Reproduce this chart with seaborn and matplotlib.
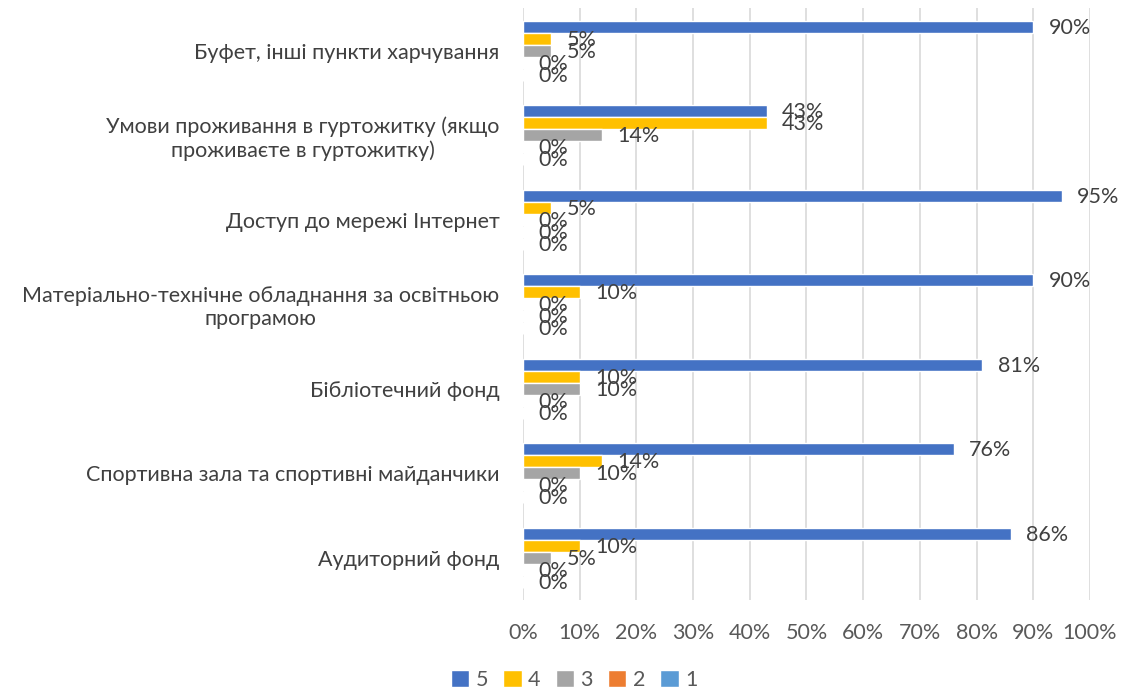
import matplotlib
matplotlib.use("Agg")
import matplotlib.pyplot as plt
import pandas as pd
import seaborn as sns
from matplotlib.patches import Patch

categories = [
    "Буфет, інші пункти харчування",
    "Умови проживання в гуртожитку (якщо\nпроживаєте в гуртожитку)",
    "Доступ до мережі Інтернет",
    "Матеріально-технічне обладнання за освітньою\nпрограмою",
    "Бібліотечний фонд",
    "Спортивна зала та спортивні майданчики",
    "Аудиторний фонд",
]
series = ["5", "4", "3", "2", "1"]
vals_5 = [90, 43, 95, 90, 81, 76, 86]
vals_4 = [5, 43, 5, 10, 10, 14, 10]
vals_3 = [5, 14, 0, 0, 10, 10, 5]
vals_2 = [0, 0, 0, 0, 0, 0, 0]
vals_1 = [0, 0, 0, 0, 0, 0, 0]
colors = ["#4472C4", "#FFC000", "#A5A5A5", "#ED7D31", "#5B9BD5"]
xticks = list(range(0, 101, 10))

rows = []
for s, vals in zip(series, [vals_5, vals_4, vals_3, vals_2, vals_1]):
    for c, v in zip(categories, vals):
        rows.append({"category": c, "series": s, "value": v})
df = pd.DataFrame(rows)

sns.set_style("white")
plt.rcParams["font.family"] = ["Lato", "DejaVu Sans"]
fs = 15.5

fig = plt.figure(figsize=(11.26, 6.91), dpi=100)
ax = fig.add_axes([0.4645, 0.132, 0.5035, 0.856])

sns.barplot(data=df, y="category", x="value", hue="series", hue_order=series,
            order=categories, palette=colors, orient="h", width=0.71,
            saturation=1, ax=ax, legend=False)

# value labels next to every bar, zeros included
for cont in ax.containers:
    for p in cont:
        v = p.get_width()
        ax.annotate(f"{v:.0f}%", (v, p.get_y() + p.get_height() / 2),
                    xytext=(11, -1), textcoords="offset points",
                    ha="left", va="center", fontsize=fs, color="#404040")

ax.set_xlim(0, 100)
ax.set_xticks(xticks)
ax.set_xticklabels([f"{t}%" for t in xticks])
ax.grid(axis="x", color="#D9D9D9", linewidth=1.2)
ax.set_axisbelow(True)
for sp in ax.spines.values():
    sp.set_visible(False)
ax.tick_params(axis="both", length=0, labelsize=fs, colors="#595959")
ax.tick_params(axis="x", pad=17)
ax.tick_params(axis="y", pad=17)
for lab in ax.get_yticklabels():
    lab.set_multialignment("center")
    lab.set_color("#404040")
ax.set_xlabel("")
ax.set_ylabel("")

handles = [Patch(facecolor=c, label=s) for s, c in zip(series, colors)]
fig.legend(handles=handles, loc="center", bbox_to_anchor=(0.51, 0.016),
           ncol=5, frameon=False, fontsize=fs, handlelength=0.85, handleheight=0.85,
           handletextpad=0.3, columnspacing=0.7, labelcolor="#595959")

fig.savefig("out.png", dpi=100)
